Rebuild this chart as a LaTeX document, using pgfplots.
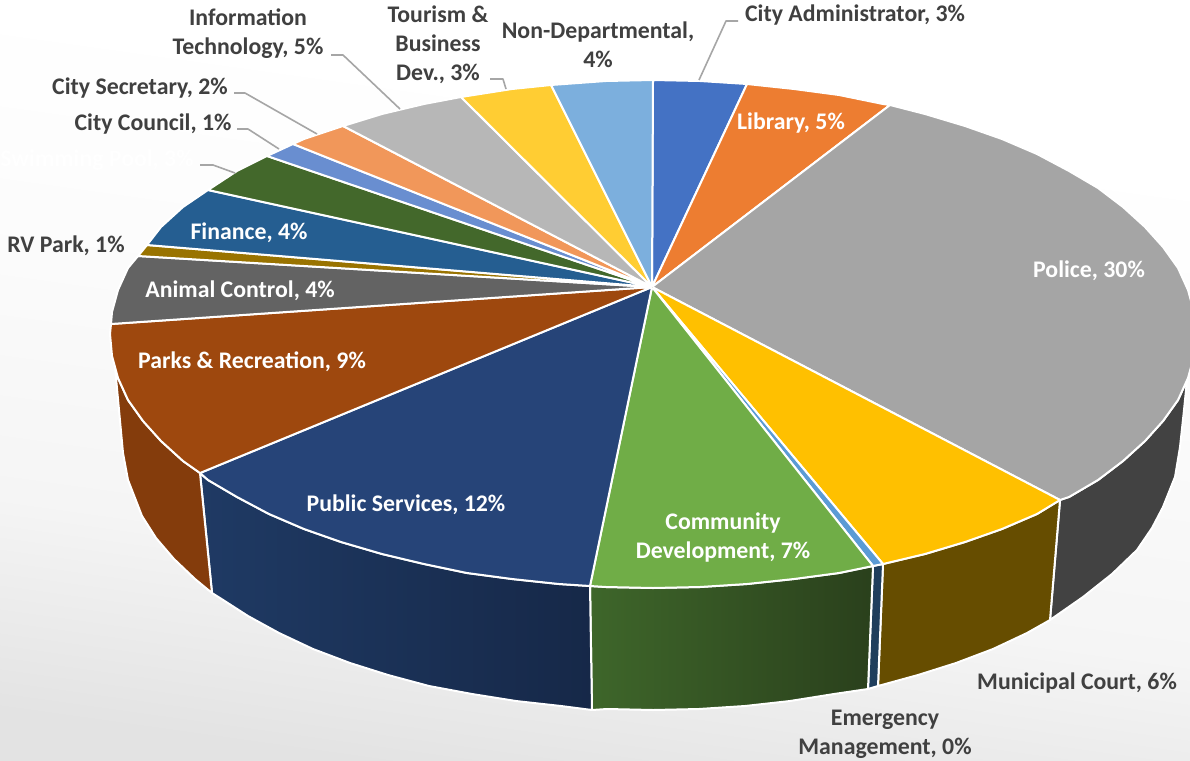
\documentclass[border=0pt]{standalone}
\usepackage{pgfplots}
\pgfplotsset{compat=1.18}
\usepackage{fontspec}
\setmainfont{Carlito}
\definecolor{lab}{HTML}{404040}
\definecolor{lead}{HTML}{A6A6A6}
\definecolor{bgA}{HTML}{E3E3E3}
\definecolor{bgB}{HTML}{F5F5F5}
\definecolor{bgC}{HTML}{FCFCFC}
\pgfdeclareverticalshading{bgsh}{100bp}{color(0bp)=(bgA); color(25bp)=(bgA); color(38bp)=(bgB); color(55bp)=(bgC); color(68bp)=(white); color(100bp)=(white)}
\begin{document}
\begin{tikzpicture}[
  lbl/.style={font=\fontsize{23.8}{29}\selectfont\bfseries,text=lab,inner sep=0pt,align=center},
  wl/.style={lbl,text=white}]
\begin{axis}[
  scale only axis,width=1190pt,height=760pt,
  xmin=0,xmax=1190,ymin=0,ymax=760,y dir=reverse,
  axis lines=none,
  slice/.style={draw=white,line width=2pt,line join=round,mark=none,solid},
  leader/.style={draw=lead,line width=1.6pt,line join=round,mark=none}]
% background
\addplot[draw=none,mark=none,shading=bgsh,shading angle=-8]
  coordinates {(-5,-5)(1195,-5)(1195,765)(-5,765)};
% sides
\addplot[slice,fill=black!74] coordinates {(1194,356)(1188,378)(1178,400)(1163,421)(1145,441)(1123,461)(1098,480)(1069,497)(1060,500)(1050,620)(1083,597)(1112,574)(1137,550)(1152,528)(1163,507)(1175,477)(1180,447)(1184,410)(1188,370)(1194,356)};
\addplot[slice,fill={rgb,255:red,102;green,77;blue,0}] coordinates {(1060,500)(1037,514)(1002,529)(965,542)(925,554)(883,564)(878,686)(918,675)(956,663)(993,649)(1027,633)(1050,620)(1060,500)};
\addplot[slice,fill={rgb,255:red,31;green,62;blue,92}] coordinates {(883,564)(873,566)(868,689)(878,686)(883,564)};
\addplot[slice,left color={rgb,255:red,62;green,102;blue,42},right color={rgb,255:red,42;green,64;blue,28}] coordinates {(873,566)(839,573)(794,579)(747,584)(700,587)(653,588)(606,587)(590,586)(592,710)(607,709)(653,710)(699,709)(745,706)(790,701)(834,694)(868,689)(873,566)};
\addplot[slice,left color={rgb,255:red,31;green,58;blue,100},right color={rgb,255:red,22;green,40;blue,72}] coordinates {(590,586)(559,584)(512,579)(467,573)(424,564)(382,554)(341,542)(304,529)(269,514)(237,497)(208,480)(200,473)(212,593)(220,598)(248,616)(279,633)(313,649)(350,663)(388,675)(429,686)(472,694)(516,701)(561,706)(592,710)(590,586)};
\addplot[slice,fill={rgb,255:red,132;green,60;blue,12}] coordinates {(200,473)(183,461)(161,441)(143,421)(128,400)(118,378)(115,367)(123,453)(128,480)(142,516)(156,538)(174,559)(195,579)(212,593)(200,473)};
% top
\addplot[slice,fill={rgb,255:red,68;green,114;blue,196}] coordinates {(652,287)(653,80)(700,81)(747,84)(652,287)};
\addplot[slice,fill={rgb,255:red,237;green,125;blue,49}] coordinates {(652,287)(747,84)(794,89)(839,95)(883,104)(890,105)(652,287)};
\addplot[slice,fill={rgb,255:red,165;green,165;blue,165}] coordinates {(652,287)(890,105)(925,114)(965,126)(1002,139)(1037,154)(1069,171)(1098,188)(1123,207)(1145,227)(1163,247)(1178,268)(1188,290)(1194,312)(1196,334)(1194,356)(1188,378)(1178,400)(1163,421)(1145,441)(1123,461)(1098,480)(1069,497)(1060,500)(652,287)};
\addplot[slice,fill={rgb,255:red,255;green,192;blue,0}] coordinates {(652,287)(1060,500)(1037,514)(1002,529)(965,542)(925,554)(883,564)(652,287)};
\addplot[slice,fill={rgb,255:red,91;green,155;blue,213}] coordinates {(652,287)(883,564)(873,566)(652,287)};
\addplot[slice,fill={rgb,255:red,112;green,173;blue,71}] coordinates {(652,287)(873,566)(839,573)(794,579)(747,584)(700,587)(653,588)(606,587)(590,586)(652,287)};
\addplot[slice,fill={rgb,255:red,38;green,68;blue,120}] coordinates {(652,287)(590,586)(559,584)(512,579)(467,573)(424,564)(382,554)(341,542)(304,529)(269,514)(237,497)(208,480)(200,473)(652,287)};
\addplot[slice,fill={rgb,255:red,158;green,72;blue,14}] coordinates {(652,287)(200,473)(183,461)(161,441)(143,421)(128,400)(118,378)(112,356)(110,334)(111,324)(652,287)};
\addplot[slice,fill={rgb,255:red,99;green,99;blue,99}] coordinates {(652,287)(111,324)(112,312)(118,290)(128,268)(138,256)(652,287)};
\addplot[slice,fill={rgb,255:red,153;green,115;blue,0}] coordinates {(652,287)(138,256)(143,250)(147,245)(652,287)};
\addplot[slice,fill={rgb,255:red,37;green,94;blue,145}] coordinates {(652,287)(147,245)(161,227)(183,207)(208,190)(652,287)};
\addplot[slice,fill={rgb,255:red,67;green,104;blue,43}] coordinates {(652,287)(208,190)(237,171)(267,156)(652,287)};
\addplot[slice,fill={rgb,255:red,105;green,142;blue,208}] coordinates {(652,287)(267,156)(293,144)(652,287)};
\addplot[slice,fill={rgb,255:red,241;green,151;blue,90}] coordinates {(652,287)(293,144)(304,139)(343,126)(652,287)};
\addplot[slice,fill={rgb,255:red,183;green,183;blue,183}] coordinates {(652,287)(343,126)(382,114)(424,104)(461,97)(652,287)};
\addplot[slice,fill={rgb,255:red,255;green,205;blue,51}] coordinates {(652,287)(461,97)(512,89)(551,85)(652,287)};
\addplot[slice,fill={rgb,255:red,124;green,175;blue,221}] coordinates {(652,287)(551,85)(606,81)(653,80)(652,287)};
% leaders
\addplot[leader] coordinates {(699,80)(726,21)(738,21)};
\addplot[leader] coordinates {(490,79)(503,79)(506,89)};
\addplot[leader] coordinates {(331,55)(343,55)(400,109)};
\addplot[leader] coordinates {(234,93)(245,93)(317,134)};
\addplot[leader] coordinates {(237,129)(248,129)(279,149)};
\addplot[leader] coordinates {(200,165)(213,165)(235,173)};
% labels
\node[lbl] at (axis cs:855,15) {City Administrator, 3\%};
\node[lbl] at (axis cs:248,34) {Information\\Technology, 5\%};
\node[lbl] at (axis cs:438,45) {Tourism \&\\Business\\Dev., 3\%};
\node[lbl] at (axis cs:598,45) {Non-Departmental,\\4\%};
\node[lbl] at (axis cs:140,88) {City Secretary, 2\%};
\node[lbl] at (axis cs:153,124) {City Council, 1\%};
\node[wl] at (axis cs:97,160) {Swimming Pool, 3\%};
\node[lbl] at (axis cs:66,246) {RV Park, 1\%};
\node[wl] at (axis cs:249,233) {Finance, 4\%};
\node[wl] at (axis cs:240,291) {Animal Control, 4\%};
\node[wl] at (axis cs:252,362) {Parks \& Recreation, 9\%};
\node[wl] at (axis cs:406,505) {Public Services, 12\%};
\node[wl] at (axis cs:723,538) {Community\\Development, 7\%};
\node[wl] at (axis cs:1089,271) {Police, 30\%};
\node[wl] at (axis cs:791,123) {Library, 5\%};
\node[lbl] at (axis cs:1077,683) {Municipal Court, 6\%};
\node[lbl] at (axis cs:885,734) {Emergency\\Management, 0\%};
\end{axis}
\end{tikzpicture}
\end{document}
